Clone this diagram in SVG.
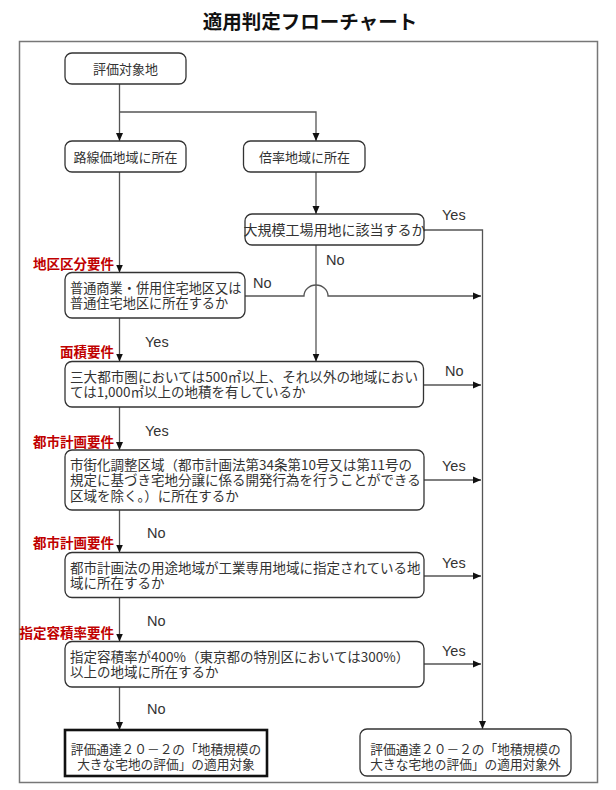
<svg xmlns="http://www.w3.org/2000/svg" width="616" height="790" viewBox="0 0 616 790">
<style>
.bg{fill:#fff}
.frame{fill:none;stroke:#777;stroke-width:1.5}
.box{fill:#fff;stroke:#333;stroke-width:1.3}
.final{fill:#fff;stroke:#111;stroke-width:2.6}
.t{font-family:"Noto Sans CJK JP","Noto Sans CJK SC",sans-serif;font-size:13.5px;fill:#333}
.ts{font-family:"Noto Sans CJK JP","Noto Sans CJK SC",sans-serif;font-size:13px;fill:#333}
.c{text-anchor:middle}
.req{font-family:"Noto Sans CJK JP","Noto Sans CJK SC",sans-serif;font-size:13.5px;font-weight:bold;fill:#c00000;text-anchor:end}
.lbl{font-family:"Liberation Sans",Arial,sans-serif;font-size:14.5px;fill:#333}
.title{font-family:"Noto Sans CJK JP","Noto Sans CJK SC",sans-serif;font-size:19.5px;font-weight:bold;fill:#111;text-anchor:middle}
.ln{fill:none;stroke:#555;stroke-width:1.3}
.arr{fill:none;stroke:#555;stroke-width:1.3;marker-end:url(#ah)}
</style>
<defs>
<marker id="ah" markerUnits="userSpaceOnUse" markerWidth="8" markerHeight="8" refX="8" refY="4" orient="auto">
<path d="M0,0.5 L8,4 L0,7.5 z" fill="#111"/>
</marker>
</defs>
<rect class="bg" x="0" y="0" width="616" height="790"/>
<text class="title" x="310" y="29">適用判定フローチャート</text>
<rect class="frame" x="19.5" y="41.5" width="578" height="741"/>

<g id="connectors">
<path class="arr" d="M119.5,84 V141"/>
<path class="arr" d="M119.5,112 H316 V141"/>
<path class="arr" d="M119.5,172 V272.5"/>
<path class="arr" d="M316,172 V214"/>
<path class="arr" d="M316,245 V361.5"/>
<path class="arr" d="M424,230 H482.5 V729"/>
<path class="arr" d="M245,296 H304 A12,11 0 0 1 328,296 H481"/>
<path class="arr" d="M119.5,318 V361.5"/>
<path class="arr" d="M423.5,385 H481"/>
<path class="arr" d="M119.5,407 V450"/>
<path class="arr" d="M424,480 H481"/>
<path class="arr" d="M119.5,510 V552.5"/>
<path class="arr" d="M424,576 H481"/>
<path class="arr" d="M119.5,597.5 V641.5"/>
<path class="arr" d="M424,664 H481"/>
<path class="arr" d="M119.5,687 V730"/>
<text class="lbl" x="442" y="220">Yes</text>
<text class="lbl" x="326" y="265">No</text>
<text class="lbl" x="253" y="288">No</text>
<text class="lbl" x="145" y="347">Yes</text>
<text class="lbl" x="445" y="376">No</text>
<text class="lbl" x="145" y="436">Yes</text>
<text class="lbl" x="442" y="471">Yes</text>
<text class="lbl" x="147" y="538">No</text>
<text class="lbl" x="442" y="568">Yes</text>
<text class="lbl" x="147" y="626">No</text>
<text class="lbl" x="442" y="656">Yes</text>
<text class="lbl" x="147" y="714">No</text>
</g>

<g id="req-labels">
<text class="req" x="114" y="269">地区区分要件</text>
<text class="req" x="114" y="357">面積要件</text>
<text class="req" x="114" y="447">都市計画要件</text>
<text class="req" x="114" y="548">都市計画要件</text>
<text class="req" x="114" y="638">指定容積率要件</text>
</g>

<g id="n-start">
<rect class="box" x="65" y="53" width="121" height="31" rx="7"/>
<text class="ts c" x="125.5" y="73.5">評価対象地</text>
</g>
<g id="n-rosenka">
<rect class="box" x="65" y="141" width="121" height="31" rx="7"/>
<text class="ts c" x="125.5" y="161.5">路線価地域に所在</text>
</g>
<g id="n-bairitsu">
<rect class="box" x="243.5" y="141" width="121.5" height="31" rx="7"/>
<text class="ts c" x="304.5" y="161.5">倍率地域に所在</text>
</g>
<g id="n-factory">
<rect class="box" x="245" y="214" width="179" height="31" rx="7"/>
<text class="t c" x="334.5" y="234.5" style="font-size:14px">大規模工場用地に該当するか</text>
</g>
<g id="n-district">
<rect class="box" x="65" y="272.5" width="180" height="45.5" rx="7"/>
<text class="t" x="70" y="293" style="font-size:13.2px">普通商業・併用住宅地区又は</text>
<text class="t" x="70" y="308" style="font-size:13.2px">普通住宅地区に所在するか</text>
</g>
<g id="n-area">
<rect class="box" x="65" y="361.5" width="358.5" height="45.5" rx="7"/>
<text class="t" x="70" y="381.5" textLength="348" lengthAdjust="spacingAndGlyphs">三大都市圏においては500㎡以上、それ以外の地域におい</text>
<text class="t" x="70" y="396.5">ては1,000㎡以上の地積を有しているか</text>
</g>
<g id="n-urban1">
<rect class="box" x="65" y="450" width="359" height="60" rx="7"/>
<text class="t" x="70" y="469.5">市街化調整区域（都市計画法第34条第10号又は第11号の</text>
<text class="t" x="70" y="485">規定に基づき宅地分譲に係る開発行為を行うことができる</text>
<text class="t" x="70" y="500.5">区域を除く。）に所在するか</text>
</g>
<g id="n-urban2">
<rect class="box" x="65" y="552.5" width="359" height="45" rx="7"/>
<text class="t" x="70" y="572.5">都市計画法の用途地域が工業専用地域に指定されている地</text>
<text class="t" x="70" y="587.5">域に所在するか</text>
</g>
<g id="n-far">
<rect class="box" x="65" y="641.5" width="359" height="45.5" rx="7"/>
<text class="t" x="70" y="661.5">指定容積率が400%（東京都の特別区においては300%）</text>
<text class="t" x="70" y="676.5">以上の地域に所在するか</text>
</g>
<g id="n-applicable">
<rect class="final" x="65" y="730" width="202" height="46"/>
<text class="ts c" x="166" y="754" style="font-size:12.7px">評価通達２０－２の「地積規模の</text>
<text class="ts c" x="166" y="769" style="font-size:12.7px">大きな宅地の評価」の適用対象</text>
</g>
<g id="n-not-applicable">
<rect class="box" x="360" y="729" width="211" height="47" rx="7"/>
<text class="ts c" x="465.5" y="754" style="font-size:12.7px">評価通達２０－２の「地積規模の</text>
<text class="ts c" x="465.5" y="769" style="font-size:12.7px">大きな宅地の評価」の適用対象外</text>
</g>
</svg>
